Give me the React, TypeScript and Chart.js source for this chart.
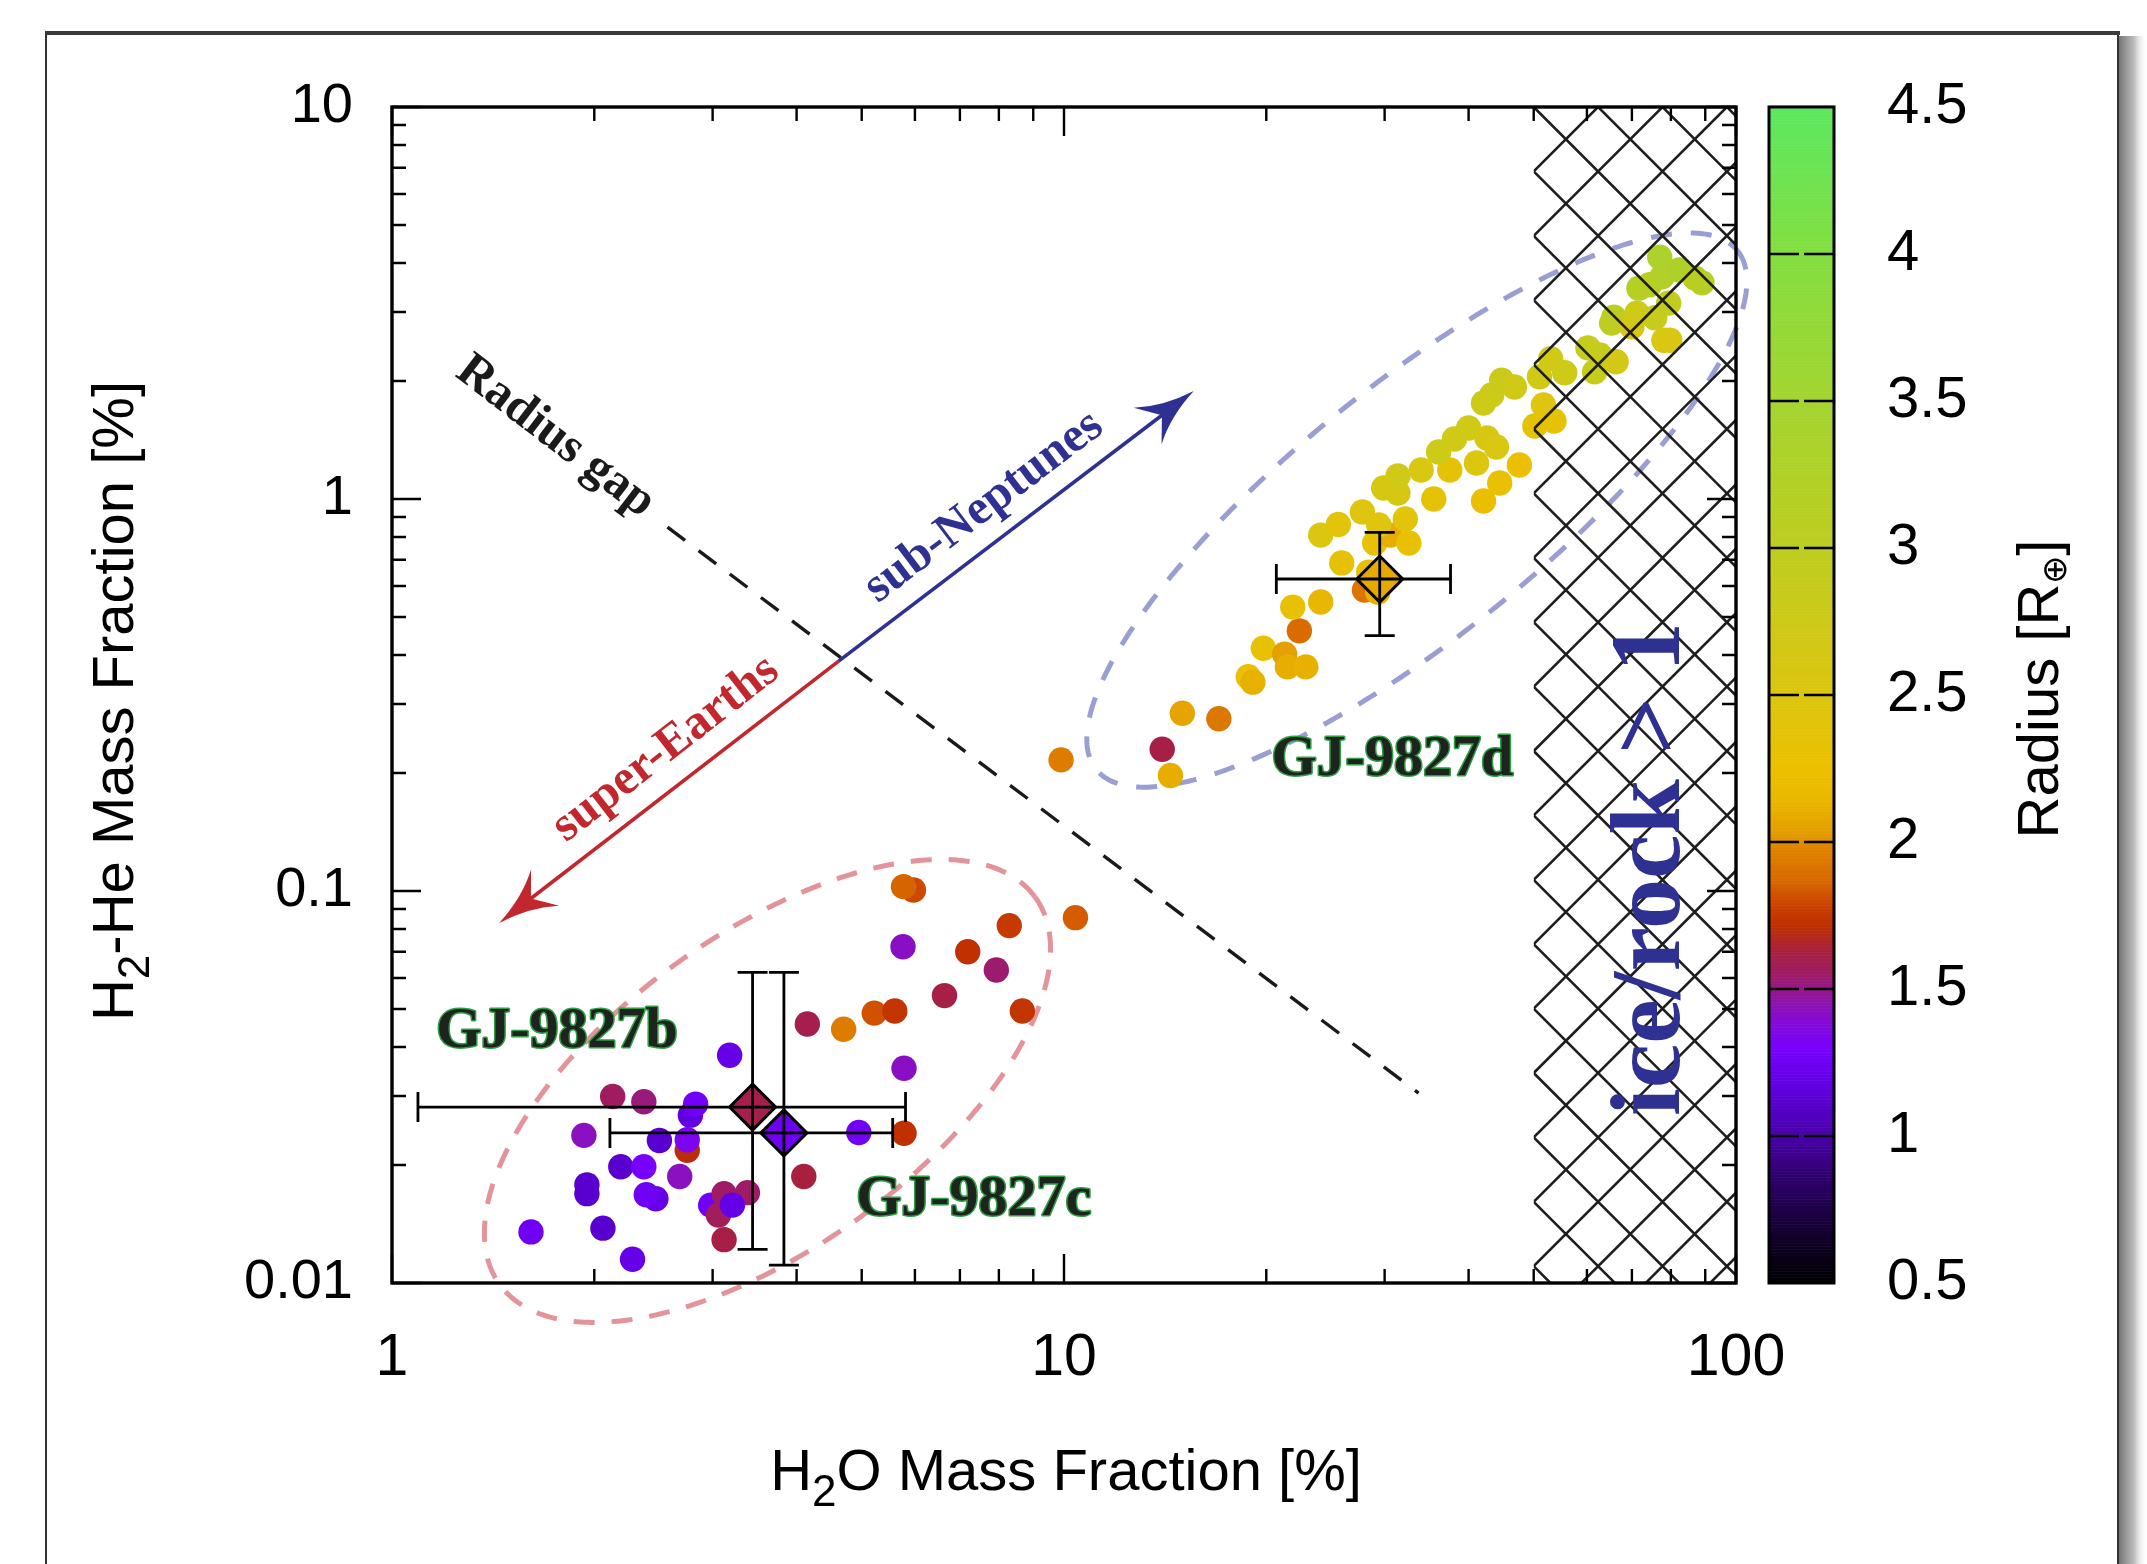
import React, { useEffect, useRef } from 'react';
import { Chart, registerables } from 'chart.js';

Chart.register(...registerables);

const W = 2147;
const H = 1564;
const SANS = '"Liberation Sans", Arial, sans-serif';
const SERIF = '"Liberation Serif", "Times New Roman", serif';

// ---------------- data ----------------
const xTicks = [1, 10, 100];
const yTicks = [0.01, 0.1, 1, 10];
const radiusTicks = [0.5, 1, 1.5, 2, 2.5, 3, 3.5, 4, 4.5];

// sub-Neptune group (H2O %, H2-He %, radius R_earth)
const upperX = [9.9, 14.0, 14.4, 15.0, 17.0, 18.8, 19.1, 19.8, 21.3, 21.5, 22.9, 22.4, 21.9, 24.1, 28.0, 29.3, 28.4, 25.9, 24.1, 25.6, 27.8, 29.0, 30.6, 32.6, 32.2, 29.4, 29.9, 31.4, 31.4, 34.0, 35.5, 37.5, 36.1, 38.1, 40.0, 42.6, 44.0, 41.1, 47.6, 44.5, 42.1, 42.1, 43.3, 44.8, 46.8, 51.7, 50.2, 53.6, 51.0, 53.0, 55.6, 60.2, 62.7, 61.6, 66.3, 65.8, 65.3, 70.0, 71.2, 75.7, 79.4, 78.1, 79.7, 71.7, 74.4, 77.6, 82.3, 77.0, 89.0, 86.9];
const upperY = [0.216, 0.230, 0.197, 0.284, 0.275, 0.352, 0.341, 0.416, 0.402, 0.373, 0.373, 0.461, 0.530, 0.546, 0.586, 0.579, 0.651, 0.687, 0.809, 0.861, 0.927, 0.772, 0.809, 0.772, 0.889, 0.858, 1.067, 1.036, 1.145, 1.186, 1.0, 1.186, 1.318, 1.422, 1.517, 1.431, 1.357, 1.236, 1.221, 1.099, 0.988, 1.758, 1.842, 2.01, 1.931, 1.738, 1.535, 1.581, 2.05, 2.28, 2.10, 2.43, 2.33, 2.11, 2.24, 2.91, 2.81, 2.75, 2.98, 2.90, 3.16, 2.54, 2.54, 3.45, 3.52, 3.69, 3.84, 4.14, 3.56, 3.66];
const upperR = [1.95, 1.62, 2.1, 2.06, 1.93, 2.25, 2.12, 2.3, 2.04, 2.1, 2.12, 1.88, 2.3, 2.14, 1.92, 2.12, 2.3, 2.35, 2.5, 2.4, 2.45, 2.3, 2.1, 2.3, 2.4, 2.45, 2.6, 2.6, 2.7, 2.55, 2.35, 2.35, 2.75, 2.7, 2.7, 2.6, 2.55, 2.5, 2.25, 2.28, 2.22, 2.75, 2.75, 2.8, 2.7, 2.45, 2.35, 2.35, 2.7, 2.7, 2.75, 2.9, 2.85, 2.85, 2.65, 3.05, 3.0, 2.6, 2.7, 2.85, 2.95, 2.55, 2.55, 3.15, 3.1, 3.2, 3.3, 3.35, 3.15, 3.1];

// super-Earth group
const lowerX = [4.15, 4.70, 5.22, 5.60, 3.18, 5.78, 2.13, 2.37, 2.78, 2.83, 1.93, 2.50, 2.75, 2.75, 4.95, 5.78, 2.19, 2.37, 2.68, 4.10, 1.95, 1.95, 2.47, 2.39, 2.98, 3.12, 3.38, 3.06, 3.21, 3.12, 1.61, 2.06, 2.28, 5.97, 5.77, 8.29, 10.4, 5.76, 7.19, 7.93, 6.64, 8.67];
const lowerY = [0.0458, 0.0444, 0.0488, 0.0494, 0.0381, 0.0353, 0.0299, 0.0290, 0.0268, 0.0286, 0.0238, 0.0231, 0.0218, 0.0232, 0.0242, 0.0241, 0.0198, 0.0198, 0.0187, 0.0187, 0.0169, 0.0178, 0.0164, 0.0168, 0.0158, 0.0169, 0.0170, 0.0149, 0.0158, 0.0129, 0.0135, 0.0138, 0.0115, 0.1006, 0.1026, 0.0816, 0.0855, 0.0721, 0.0700, 0.0629, 0.0541, 0.0494];
const lowerR = [1.6, 1.95, 1.82, 1.74, 1.2, 1.42, 1.56, 1.52, 1.18, 1.27, 1.43, 1.12, 1.7, 1.33, 1.26, 1.72, 1.12, 1.3, 1.43, 1.63, 1.12, 1.12, 1.2, 1.25, 1.27, 1.55, 1.55, 1.57, 1.2, 1.62, 1.25, 1.12, 1.2, 1.8, 1.86, 1.76, 1.84, 1.42, 1.72, 1.54, 1.62, 1.74];

// GJ 9827 planets
const planetNames = ['GJ-9827b', 'GJ-9827c', 'GJ-9827d'];
const planetX = [3.44, 3.83, 29.5];
const planetY = [0.0281, 0.02415, 0.625];
const planetR = [1.6, 1.25, 2.08];
const planetXLo = [1.093, 2.11, 20.7];
const planetXHi = [5.81, 5.56, 37.6];
const planetYLo = [0.01219, 0.01111, 0.448];
const planetYHi = [0.062, 0.062, 0.822];
const planetLabelX = [1.76, 7.34, 30.8];
const planetLabelY = [0.040, 0.0149, 0.198];

// annotations (data coordinates)
const iceRockLimit = 50;
const gapLineX = [2.57, 33.7];
const gapLineY = [0.848, 0.0305];
const arrowOrigin = [4.62, 0.386];
const subNeptuneTip = [15.6, 1.886];
const superEarthTip = [1.444, 0.0829];
const annoText = ['Radius gap', 'sub-Neptunes', 'super-Earths'];
const annoX = [1.75, 7.6, 2.556];
const annoY = [1.44, 0.954, 0.2303];
const annoAngle = [37.3, -37.2, -37.9];
const annoColor = ['#1a1a1a', '#2e3192', '#c1272d'];
const iceRockLabelX = 82.3;
const iceRockLabelY = 0.1138;
// ellipses: centre, semi-axis vectors in decades (log10 x, log10 y)
const blueEllipseC = [33.5, 0.937];
const blueEllipseA = [0.477, 0.662];
const blueEllipseB = [0.117, -0.248];
const redEllipseC = [3.62, 0.0309];
const redEllipseA = [0.398, 0.495];
const redEllipseB = [0.138, -0.322];

// ---------------- colormap ----------------
const cmapStops: number[][] = [
  [0.5, 0, 0, 0], [0.7, 22, 0, 55], [0.87, 48, 0, 112], [1.0, 72, 0, 168], [1.17, 96, 0, 224],
  [1.3, 120, 0, 255], [1.43, 138, 16, 192], [1.5, 150, 24, 140], [1.56, 160, 28, 96], [1.63, 168, 32, 64],
  [1.72, 192, 48, 0], [1.77, 200, 60, 0], [1.87, 216, 104, 0], [1.98, 224, 132, 0], [2.04, 228, 160, 0],
  [2.15, 234, 184, 0], [2.25, 236, 192, 0], [2.5, 220, 198, 16], [3.0, 190, 205, 32], [3.5, 164, 212, 48],
  [4.0, 132, 222, 64], [4.5, 92, 232, 96],
];
function cmap(v: number): string {
  const s = cmapStops;
  if (v <= s[0][0]) return `rgb(${s[0][1]},${s[0][2]},${s[0][3]})`;
  for (let i = 1; i < s.length; i++) {
    if (v <= s[i][0]) {
      const a = s[i - 1], b = s[i];
      const t = (v - a[0]) / (b[0] - a[0]);
      const c = [1, 2, 3].map((k) => Math.round(a[k] + t * (b[k] - a[k])));
      return `rgb(${c[0]},${c[1]},${c[2]})`;
    }
  }
  const l = s[s.length - 1];
  return `rgb(${l[1]},${l[2]},${l[3]})`;
}

type Part = { t: string; sub?: boolean };
function drawRich(ctx: CanvasRenderingContext2D, parts: Part[], size: number, subSize: number, subShift: number, family: string) {
  const widths = parts.map((p) => {
    ctx.font = `${p.sub ? subSize : size}px ${family}`;
    return ctx.measureText(p.t).width;
  });
  const total = widths.reduce((a, b) => a + b, 0);
  let x = -total / 2;
  ctx.textAlign = 'left';
  ctx.textBaseline = 'alphabetic';
  parts.forEach((p, i) => {
    ctx.font = `${p.sub ? subSize : size}px ${family}`;
    ctx.fillText(p.t, x, p.sub ? subShift : 0);
    x += widths[i];
  });
}

function drawArrow(ctx: CanvasRenderingContext2D, x0: number, y0: number, x1: number, y1: number, color: string) {
  const dx = x1 - x0, dy = y1 - y0;
  const L = Math.hypot(dx, dy);
  const ux = dx / L, uy = dy / L, nx = -uy, ny = ux;
  const headL = 58, headW = 23, notch = 40;
  ctx.save();
  ctx.strokeStyle = color;
  ctx.lineWidth = 3.6;
  ctx.beginPath();
  ctx.moveTo(x0, y0);
  ctx.lineTo(x1 - ux * notch, y1 - uy * notch);
  ctx.stroke();
  ctx.fillStyle = color;
  ctx.beginPath();
  ctx.moveTo(x1, y1);
  ctx.quadraticCurveTo(x1 - ux * 34 + nx * 6, y1 - uy * 34 + ny * 6, x1 - ux * headL + nx * headW, y1 - uy * headL + ny * headW);
  ctx.lineTo(x1 - ux * notch, y1 - uy * notch);
  ctx.lineTo(x1 - ux * headL - nx * headW, y1 - uy * headL - ny * headW);
  ctx.quadraticCurveTo(x1 - ux * 34 - nx * 6, y1 - uy * 34 - ny * 6, x1, y1);
  ctx.closePath();
  ctx.fill();
  ctx.restore();
}

const customPlugin = {
  id: 'customDraw',
  beforeDraw(chart: any) {
    const ctx: CanvasRenderingContext2D = chart.ctx;
    ctx.save();
    ctx.fillStyle = '#ffffff';
    ctx.fillRect(0, 0, W, H);
    // outer frame with shadow
    const g = ctx.createLinearGradient(2118, 0, 2147, 0);
    g.addColorStop(0, 'rgba(110,110,110,1)');
    g.addColorStop(0.55, 'rgba(170,170,170,0.8)');
    g.addColorStop(1, 'rgba(255,255,255,0)');
    ctx.fillStyle = g;
    ctx.fillRect(2118, 36, 29, H - 36);
    ctx.strokeStyle = '#333';
    ctx.lineWidth = 2;
    ctx.beginPath();
    ctx.moveTo(46, 33);
    ctx.lineTo(46, H);
    ctx.moveTo(2118, 33);
    ctx.lineTo(2118, H);
    ctx.stroke();
    ctx.lineWidth = 4;
    ctx.strokeStyle = '#3a3a3a';
    ctx.beginPath();
    ctx.moveTo(45, 33);
    ctx.lineTo(2120, 33);
    ctx.stroke();
    ctx.restore();
  },
  beforeDatasetsDraw(chart: any) {
    const ctx: CanvasRenderingContext2D = chart.ctx;
    const xs = chart.scales.x, ys = chart.scales.y;
    const px = (v: number) => xs.getPixelForValue(v);
    const py = (v: number) => ys.getPixelForValue(v);

    const ellipse = (c: number[], a: number[], b: number[], color: string, dash: number[]) => {
      const lcx = Math.log10(c[0]), lcy = Math.log10(c[1]);
      ctx.save();
      ctx.beginPath();
      for (let i = 0; i <= 400; i++) {
        const t = (i / 400) * Math.PI * 2;
        const lx = lcx + a[0] * Math.cos(t) + b[0] * Math.sin(t);
        const ly = lcy + a[1] * Math.cos(t) + b[1] * Math.sin(t);
        const X = px(Math.pow(10, lx)), Y = py(Math.pow(10, ly));
        if (i === 0) ctx.moveTo(X, Y); else ctx.lineTo(X, Y);
      }
      ctx.setLineDash(dash);
      ctx.lineWidth = 5;
      ctx.strokeStyle = color;
      ctx.stroke();
      ctx.restore();
    };
    ellipse(blueEllipseC, blueEllipseA, blueEllipseB, '#9b9ed3', [21, 19]);
    ellipse(redEllipseC, redEllipseA, redEllipseB, '#e3949b', [21, 17]);

    // radius gap dashed line
    ctx.save();
    ctx.setLineDash([22, 17]);
    ctx.lineWidth = 3.4;
    ctx.strokeStyle = '#1a1a1a';
    ctx.beginPath();
    ctx.moveTo(px(gapLineX[0]), py(gapLineY[0]));
    ctx.lineTo(px(gapLineX[1]), py(gapLineY[1]));
    ctx.stroke();
    ctx.restore();

    // arrows
    const ox = px(arrowOrigin[0]), oy = py(arrowOrigin[1]);
    drawArrow(ctx, ox, oy, px(subNeptuneTip[0]), py(subNeptuneTip[1]), '#2e3192');
    drawArrow(ctx, ox, oy, px(superEarthTip[0]), py(superEarthTip[1]), '#c1272d');

    // rotated annotation texts
    annoText.forEach((t, i) => {
      ctx.save();
      ctx.translate(px(annoX[i]), py(annoY[i]));
      ctx.rotate((annoAngle[i] * Math.PI) / 180);
      ctx.font = `bold 49px ${SERIF}`;
      ctx.fillStyle = annoColor[i];
      ctx.textAlign = 'center';
      ctx.textBaseline = 'middle';
      ctx.fillText(t, 0, 0);
      ctx.restore();
    });
  },
  afterDatasetsDraw(chart: any) {
    const ctx: CanvasRenderingContext2D = chart.ctx;
    const xs = chart.scales.x, ys = chart.scales.y;
    const { top, bottom, right } = chart.chartArea;
    const px = (v: number) => xs.getPixelForValue(v);
    const py = (v: number) => ys.getPixelForValue(v);

    // ice/rock > 1 hatch
    const hx0 = px(iceRockLimit);
    const hw = right - hx0, hh = bottom - top;
    const p = 64.4;
    ctx.save();
    ctx.beginPath();
    ctx.rect(hx0, top, hw, hh);
    ctx.clip();
    ctx.strokeStyle = '#1e1e1e';
    ctx.lineWidth = 2.6;
    ctx.beginPath();
    const kMin = -Math.ceil(hw / p) - 2, kMax = Math.ceil((hh + hw) / p) + 2;
    for (let k = kMin; k <= kMax; k++) {
      const y0 = top + k * p;
      ctx.moveTo(hx0, y0);
      ctx.lineTo(hx0 + 2000, y0 + 2000);
      ctx.moveTo(hx0, y0);
      ctx.lineTo(hx0 + 2000, y0 - 2000);
    }
    ctx.stroke();
    ctx.restore();

    // ice/rock label
    ctx.save();
    ctx.translate(px(iceRockLabelX), py(iceRockLabelY));
    ctx.rotate(-Math.PI / 2);
    ctx.font = `bold 100px ${SERIF}`;
    ctx.fillStyle = '#2e3192';
    ctx.textAlign = 'center';
    ctx.textBaseline = 'alphabetic';
    ctx.fillText('ice/rock > 1', 0, 0);
    ctx.restore();

    // error bars
    ctx.save();
    ctx.strokeStyle = '#000';
    ctx.lineWidth = 2.8;
    const cap = 15;
    planetX.forEach((x, i) => {
      const X = px(x), Y = py(planetY[i]);
      const xl = px(planetXLo[i]), xh = px(planetXHi[i]);
      const yl = py(planetYLo[i]), yh = py(planetYHi[i]);
      ctx.beginPath();
      ctx.moveTo(xl, Y); ctx.lineTo(xh, Y);
      ctx.moveTo(xl, Y - cap); ctx.lineTo(xl, Y + cap);
      ctx.moveTo(xh, Y - cap); ctx.lineTo(xh, Y + cap);
      ctx.moveTo(X, yl); ctx.lineTo(X, yh);
      ctx.moveTo(X - cap, yl); ctx.lineTo(X + cap, yl);
      ctx.moveTo(X - cap, yh); ctx.lineTo(X + cap, yh);
      ctx.stroke();
    });
    ctx.restore();

    // planet labels
    planetNames.forEach((n, i) => {
      ctx.save();
      ctx.font = `bold 58px ${SERIF}`;
      ctx.textAlign = 'center';
      ctx.textBaseline = 'alphabetic';
      ctx.lineJoin = 'round';
      ctx.strokeStyle = '#2f9e44';
      ctx.lineWidth = 3;
      const X = px(planetLabelX[i]), Y = py(planetLabelY[i]);
      ctx.strokeText(n, X, Y);
      ctx.fillStyle = '#1d241d';
      ctx.fillText(n, X, Y);
      ctx.restore();
    });
  },
  afterDraw(chart: any) {
    const ctx: CanvasRenderingContext2D = chart.ctx;
    const xs = chart.scales.x, ys = chart.scales.y, cs = chart.scales.c;
    const { left, right, top, bottom } = chart.chartArea;

    // ticks (inward, all four sides)
    ctx.save();
    ctx.strokeStyle = '#000';
    ctx.lineWidth = 2.4;
    ctx.beginPath();
    for (let e = 0; e <= 2; e++) {
      for (let m = 1; m <= 9; m++) {
        const v = m * Math.pow(10, e);
        if (v > 100) continue;
        const X = xs.getPixelForValue(v);
        const len = m === 1 ? 29 : 14;
        ctx.moveTo(X, bottom); ctx.lineTo(X, bottom - len);
        ctx.moveTo(X, top); ctx.lineTo(X, top + len);
      }
    }
    for (let e = -2; e <= 1; e++) {
      for (let m = 1; m <= 9; m++) {
        const v = m * Math.pow(10, e);
        if (v > 10.0001) continue;
        const Y = ys.getPixelForValue(v);
        const len = m === 1 ? 29 : 14;
        ctx.moveTo(left, Y); ctx.lineTo(left + len, Y);
        ctx.moveTo(right, Y); ctx.lineTo(right - len, Y);
      }
    }
    ctx.stroke();
    ctx.lineWidth = 3.4;
    ctx.strokeRect(left, top, right - left, bottom - top);
    ctx.restore();

    // colorbar
    const cx0 = right + 33, cw = 65;
    ctx.save();
    for (let v = 0.5; v < 4.5; v += 0.005) {
      const y1 = cs.getPixelForValue(v), y2 = cs.getPixelForValue(v + 0.005);
      ctx.fillStyle = cmap(v + 0.0025);
      ctx.fillRect(cx0, y2, cw, y1 - y2 + 0.6);
    }
    ctx.strokeStyle = '#000';
    ctx.lineWidth = 2.4;
    ctx.beginPath();
    radiusTicks.forEach((v) => {
      if (v <= 0.5 || v >= 4.5) return;
      const Y = cs.getPixelForValue(v);
      ctx.moveTo(cx0, Y); ctx.lineTo(cx0 + 30, Y);
      ctx.moveTo(cx0 + cw - 30, Y); ctx.lineTo(cx0 + cw, Y);
    });
    ctx.stroke();
    ctx.lineWidth = 3;
    ctx.strokeRect(cx0, cs.getPixelForValue(4.5), cw, cs.getPixelForValue(0.5) - cs.getPixelForValue(4.5));
    ctx.restore();

    // axis titles
    ctx.save();
    ctx.fillStyle = '#000';
    ctx.translate((left + right) / 2 + 2, 1490);
    drawRich(ctx, [{ t: 'H' }, { t: '2', sub: true }, { t: 'O Mass Fraction [%]' }], 58, 44, 16, SANS);
    ctx.restore();

    ctx.save();
    ctx.fillStyle = '#000';
    ctx.translate(133, (top + bottom) / 2 + 6);
    ctx.rotate(-Math.PI / 2);
    drawRich(ctx, [{ t: 'H' }, { t: '2', sub: true }, { t: '-He Mass Fraction [%]' }], 58, 44, 16, SANS);
    ctx.restore();

    ctx.save();
    ctx.fillStyle = '#000';
    ctx.translate(2058, (top + bottom) / 2 - 6);
    ctx.rotate(-Math.PI / 2);
    drawRich(ctx, [{ t: 'Radius [R' }, { t: '\u2295', sub: true }, { t: ']' }], 58, 34, 8, SANS);
    ctx.restore();
  },
};

const noPad = (s: any) => {
  s.paddingTop = 0;
  s.paddingBottom = 0;
  s.paddingLeft = 0;
  s.paddingRight = 0;
};

export default function App() {
  const canvasRef = useRef<HTMLCanvasElement | null>(null);

  useEffect(() => {
    const canvas = canvasRef.current;
    if (!canvas) return;
    const chart = new Chart(canvas, {
      type: 'scatter',
      data: {
        datasets: [
          {
            label: 'GJ 9827 planets',
            data: planetX.map((x, i) => ({ x, y: planetY[i] })),
            pointStyle: 'rectRot',
            pointRadius: 23,
            backgroundColor: planetR.map(cmap),
            borderColor: '#000',
            borderWidth: 3,
            order: 0,
          },
          {
            label: 'sub-Neptune solutions',
            data: upperX.map((x, i) => ({ x, y: upperY[i] })),
            pointRadius: 12.7,
            backgroundColor: upperR.map(cmap),
            borderWidth: 0,
            order: 1,
          },
          {
            label: 'super-Earth solutions',
            data: lowerX.map((x, i) => ({ x, y: lowerY[i] })),
            pointRadius: 12.7,
            backgroundColor: lowerR.map(cmap),
            borderWidth: 0,
            order: 2,
          },
        ],
      } as any,
      options: {
        responsive: false,
        animation: false,
        devicePixelRatio: 1,
        events: [],
        layout: { padding: { top: 107, left: 0, right: 0, bottom: 0 }, autoPadding: false },
        plugins: { legend: { display: false }, tooltip: { enabled: false }, title: { display: false } },
        scales: {
          x: {
            type: 'logarithmic',
            position: 'bottom',
            min: 1,
            max: 100,
            grid: { display: false, drawTicks: false },
            border: { display: false },
            ticks: { font: { family: SANS, size: 59 }, color: '#000', padding: 40, maxRotation: 0, autoSkip: false, callback: (v: any) => String(v) },
            afterBuildTicks: (s: any) => { s.ticks = xTicks.map((v) => ({ value: v })); },
            afterFit: (s: any) => { s.height = H - 1283; noPad(s); },
          },
          y: {
            type: 'logarithmic',
            position: 'left',
            min: 0.01,
            max: 10,
            grid: { display: false, drawTicks: false },
            border: { display: false },
            ticks: { font: { family: SANS, size: 56 }, color: '#000', padding: 39, autoSkip: false, callback: (v: any) => String(v) },
            afterBuildTicks: (s: any) => { s.ticks = yTicks.map((v) => ({ value: v })); },
            afterFit: (s: any) => { s.width = 392; noPad(s); },
          },
          c: {
            type: 'linear',
            position: 'right',
            min: 0.5,
            max: 4.5,
            grid: { display: false, drawTicks: false },
            border: { display: false },
            ticks: { font: { family: SANS, size: 58 }, color: '#000', padding: 151, autoSkip: false, callback: (v: any) => String(v) },
            afterBuildTicks: (s: any) => { s.ticks = radiusTicks.map((v) => ({ value: v })); },
            afterFit: (s: any) => { s.width = W - 1736; noPad(s); },
          },
        },
      } as any,
      plugins: [customPlugin],
    });
    return () => chart.destroy();
  }, []);

  return (
    <div style={{ position: 'absolute', left: 0, top: 0, width: W, height: H, background: '#fff' }}>
      <canvas ref={canvasRef} width={W} height={H} style={{ display: 'block', width: W, height: H }} />
    </div>
  );
}
